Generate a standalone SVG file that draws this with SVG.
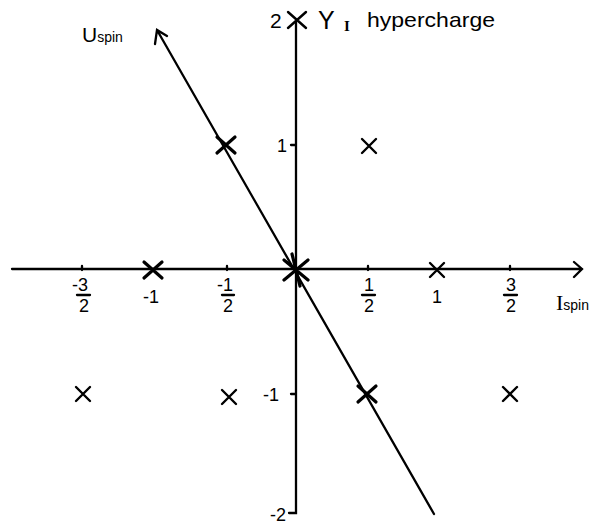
<svg xmlns="http://www.w3.org/2000/svg" width="612" height="524" viewBox="0 0 612 524">
<style>
.ax{stroke:#000;stroke-width:2.3;fill:none;stroke-linecap:round}
.x{stroke:#000;stroke-width:2.4;fill:none;stroke-linecap:round}
.xb{stroke:#000;stroke-width:3.2;fill:none;stroke-linecap:round}
text{font-family:"Liberation Sans",Arial,sans-serif;fill:#000}
.t{font-size:18px;text-anchor:middle}
.lab{font-size:21px}
.sm{font-size:14px}
.serif{font-family:"Liberation Serif","Times New Roman",serif}
</style>
<defs>
<g id="cross"><path d="M-7,-7L7,7M7,-7L-7,7"/></g>
<g id="crossb"><path d="M-9,-8L9,8M9,-8L-9,8"/></g>
</defs>
<rect width="612" height="524" fill="#fff"/>
<g id="connectors">
<path class="ax" d="M12,269H582M574,262L582,269L574,277"/>
<path class="ax" d="M296,22V513H289M296,145H291M296,394H291"/>
<path class="ax" d="M434,514L157,30M155,44L157,30L167,36"/>
<path class="ax" d="M82,266V270M227,266V270M368,266V270M510,266V270"/>
</g>
<g id="nodes">
<g id="n-1_0" class="xb" transform="translate(153,270)"><use href="#crossb"/></g>
<g id="n-h_1" class="xb" transform="translate(226,145)"><use href="#crossb"/></g>
<g id="nh_1" class="x" transform="translate(369,146)"><use href="#cross"/></g>
<g id="n0_0" class="xb" transform="translate(296,270)"><path d="M-12,-10L12,10M12,-10L-12,10M-4,-16L4,16"/></g>
<g id="n1_0" class="x" transform="translate(437,270)"><use href="#cross"/></g>
<g id="n-3h_-1" class="x" transform="translate(83,394)"><use href="#cross"/></g>
<g id="n-h_-1" class="x" transform="translate(229,397)"><use href="#cross"/></g>
<g id="nh_-1" class="xb" transform="translate(367,394)"><use href="#crossb"/></g>
<g id="n3h_-1" class="x" transform="translate(510,394)"><use href="#cross"/></g>
<g id="n0_2" class="x" transform="translate(297,20)"><path d="M-9,-8L9,8M9,-8L-9,8"/></g>
</g>
<g id="labels">
<text class="lab" x="82" y="42">U<tspan class="sm">spin</tspan></text>
<text class="lab" x="270" y="28">2</text>
<text x="318" y="29" font-size="25">Y</text>
<text class="serif" x="344" y="31" font-size="15" font-weight="bold">I</text>
<text class="lab" x="367" y="27" textLength="128" lengthAdjust="spacingAndGlyphs">hypercharge</text>
<text x="556" y="310"><tspan class="serif" font-size="22">I</tspan><tspan class="sm">spin</tspan></text>
<g class="t">
<text x="80" y="291">-3</text><path class="ax" d="M77,295H90" stroke-width="1.8"/><text x="84" y="312">2</text>
<text x="151" y="303">-1</text>
<text x="225" y="291">-1</text><path class="ax" d="M222,295H234" stroke-width="1.8"/><text x="228" y="312">2</text>
<text x="369" y="291">1</text><path class="ax" d="M362,295H375" stroke-width="1.8"/><text x="369" y="312">2</text>
<text x="437" y="303">1</text>
<text x="511" y="291">3</text><path class="ax" d="M504,295H517" stroke-width="1.8"/><text x="511" y="312">2</text>
<text x="282" y="152">1</text>
<text x="271" y="401">-1</text>
<text x="278" y="521">-2</text>
</g>
</g>
</svg>
